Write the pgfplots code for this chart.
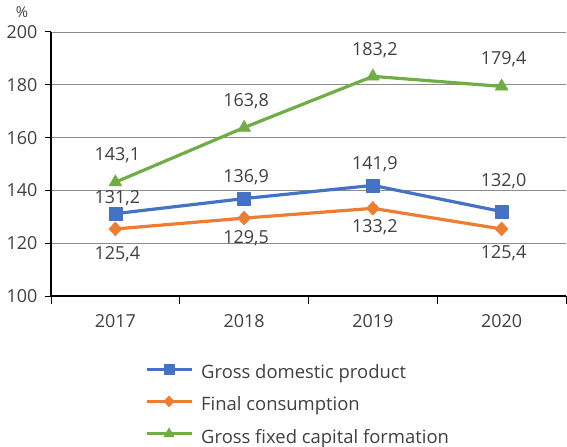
\documentclass[border=0pt]{standalone}
\usepackage{fontspec}
\setmainfont{Open Sans}
\usepackage{pgfplots}
\pgfplotsset{compat=1.18}
\usepackage{pgfplotstable}
\definecolor{cblue}{HTML}{4472C4}
\definecolor{corange}{HTML}{ED7D31}
\definecolor{cgreen}{HTML}{70AD47}
\definecolor{ctext}{HTML}{404040}
\definecolor{cgrid}{HTML}{8C8C8C}

% x  y  dy (label baseline offset, bp)
\pgfplotstableread{
x y dy
0 131.2 10.2
1 136.9 15.7
2 141.9 16.2
3 132.0 25.2
}\gdp
\pgfplotstableread{
x y dy
0 125.4 -30.3
1 129.5 -25.3
2 133.2 -24.3
3 125.4 -29.3
}\fc
\pgfplotstableread{
x y dy
0 143.1 21.7
1 163.8 20.7
2 183.2 20.7
3 179.4 21.7
}\gfcf

\begin{document}
\begin{tikzpicture}
\useasboundingbox (-51bp,-151bp) rectangle (516bp,296bp);
\begin{axis}[
  at={(0,0)}, anchor=south west,
  scale only axis, width=515bp, height=264bp,
  clip=false,
  xmin=-0.5, xmax=3.5, ymin=100, ymax=200,
  xtick={0,1,2,3}, xticklabels={2017,2018,2019,2020},
  minor xtick={-0.5,0.5,1.5,2.5,3.5},
  ytick={100,120,...,200},
  axis x line*=bottom, axis y line*=left,
  axis line style={black, line width=1.2bp, -},
  ymajorgrids,
  major grid style={cgrid, line width=0.9bp},
  tick align=outside, major tick length=6bp, minor tick length=8bp,
  major x tick style={draw=none},
  tick style={black, line width=1bp},
  ticklabel style={font=\fontsize{18}{21}\selectfont, text=ctext},
  xticklabel style={yshift=-9bp},
  yticklabel style={xshift=-4bp},
  /pgf/number format/assume math mode=true,
  legend style={at={(0.1825,-0.2577)}, anchor=north west, draw=none, fill=none,
    inner sep=0pt, outer sep=0pt,
    font=\fontsize{18.5}{21}\selectfont, text=ctext,
    row sep=12.5bp,
    /tikz/every odd column/.style={column sep=8bp},
    nodes={inner sep=0pt, text height=13.5bp, text depth=4.5bp}},
  legend cell align=left,
  legend image code/.code={\draw[mark repeat=2,mark phase=2,#1,every mark/.append style={scale=0.8}] plot coordinates {(0bp,5bp)(22.5bp,5bp)(45bp,5bp)};},
  visualization depends on={\thisrow{dy} \as \dy},
  nodes near coords={\pgfmathprintnumber[assume math mode=true,use comma,fixed,fixed zerofill,precision=1]{\pgfplotspointmeta}},
  every node near coord/.style={anchor=base, yshift=\dy bp, xshift=2bp, font=\fontsize{18}{21}\selectfont, text=ctext},
]
\addplot[cblue, line width=3.2bp, line join=round, mark=square*, mark size=6.5bp, mark options={solid, fill=cblue, line width=0.4bp}] table[x=x,y=y] {\gdp};
\addlegendentry{Gross domestic product}
\addplot[corange, line width=3.2bp, line join=round, mark=diamond*, mark size=7bp, mark options={solid, fill=corange, line width=0.4bp, xscale=1.25}] table[x=x,y=y] {\fc};
\addlegendentry{Final consumption}
\addplot[cgreen, line width=3.2bp, line join=round, mark=triangle*, mark size=7.5bp, mark options={solid, fill=cgreen, line width=0.4bp}] table[x=x,y=y] {\gfcf};
\addlegendentry{Gross fixed capital formation}
\node[font=\fontsize{15}{17}\selectfont, text=ctext] at (axis description cs:0,1) [xshift=-29bp, yshift=20bp] {\%};
\end{axis}
\end{tikzpicture}
\end{document}
